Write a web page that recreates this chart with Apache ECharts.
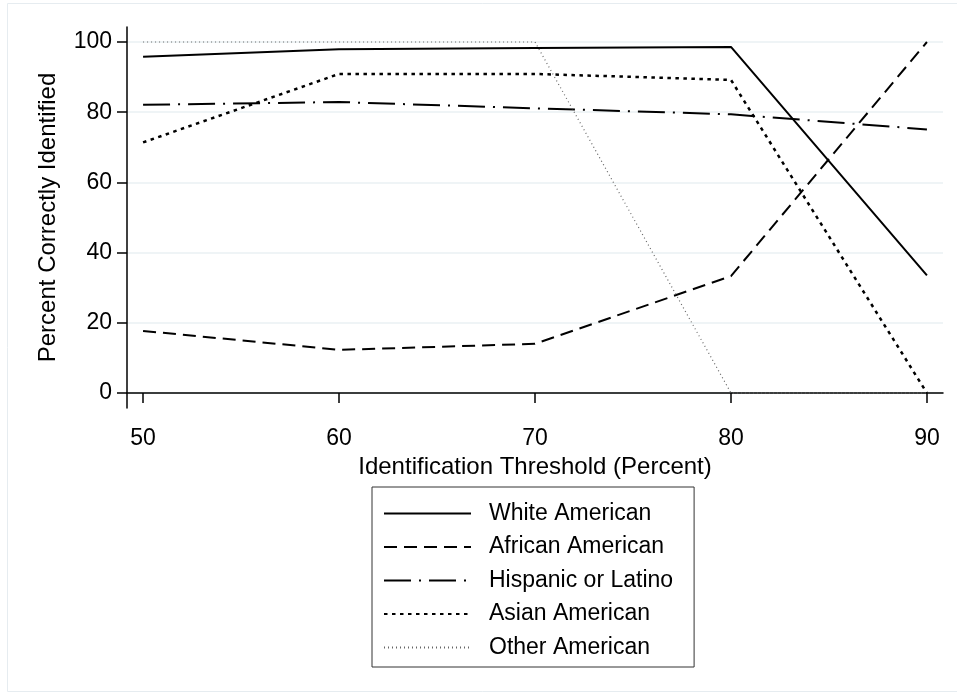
<!DOCTYPE html>
<html><head><meta charset="utf-8">
<script src="https://cdn.jsdelivr.net/npm/echarts@6/dist/echarts.min.js"></script>
<style>html,body{margin:0;padding:0;background:#fff}#c{width:957px;height:698px}</style>
</head><body><div id="c"></div>
<script>
const thresholds = [50, 60, 70, 80, 90];
const whiteAmerican = [95.8, 97.9, 98.3, 98.6, 33.5];
const africanAmerican = [17.7, 12.3, 14.0, 33.3, 100];
const hispanicLatino = [82.1, 82.9, 81.1, 79.4, 75.1];
const asianAmerican = [71.4, 90.9, 90.9, 89.2, 0];
const otherAmerican = [100, 100, 100, 0, 0];
const yTicks = [0, 20, 40, 60, 80, 100];
const xTicks = [50, 60, 70, 80, 90];
const seriesNames = ['White American', 'African American', 'Hispanic or Latino', 'Asian American', 'Other American'];

const FONT = '"Liberation Sans", Arial, sans-serif';
const pair = arr => thresholds.map((t, i) => [t, arr[i]]);
const styles = [
  {color: '#000', width: 2, type: 'solid'},
  {color: '#000', width: 2, type: [13, 7]},
  {color: '#000', width: 2, type: [27, 8, 2, 8]},
  {color: '#000', width: 2.5, type: [3.5, 4.5]},
  {color: '#666', width: 1.2, type: [1, 3]}
];
const datas = [whiteAmerican, africanAmerican, hispanicLatino, asianAmerican, otherAmerican];

const chart = echarts.init(document.getElementById('c'), null, {renderer: 'canvas'});
chart.setOption({
  backgroundColor: '#fff',
  animation: false,
  graphic: [{type: 'rect', shape: {x: 7.5, y: 3.5, width: 960, height: 688}, style: {fill: 'none', stroke: '#e6ecf0', lineWidth: 1}, silent: true}],
  grid: {left: 127, right: 14, top: 27, bottom: 290},
  xAxis: {
    type: 'value', min: 49.18, max: 90.82,
    name: 'Identification Threshold (Percent)', nameLocation: 'middle', nameGap: 37,
    nameTextStyle: {fontFamily: FONT, fontSize: 24, color: '#000'},
    axisLine: {show: true, lineStyle: {color: '#000', width: 1.5}},
    axisTick: {show: true, customValues: xTicks, length: 10, lineStyle: {color: '#000', width: 1.5}},
    axisLabel: {customValues: xTicks, fontFamily: FONT, fontSize: 23, color: '#000', margin: 19},
    splitLine: {show: false}
  },
  yAxis: {
    type: 'value', min: -4.27, max: 104.27,
    name: 'Percent Correctly Identified', nameLocation: 'middle', nameGap: 67,
    nameTextStyle: {fontFamily: FONT, fontSize: 24, color: '#000'},
    axisLine: {show: true, lineStyle: {color: '#000', width: 1.5}},
    axisTick: {show: true, customValues: yTicks, length: 10, lineStyle: {color: '#000', width: 1.5}},
    axisLabel: {customValues: yTicks, fontFamily: FONT, fontSize: 23, color: '#000', margin: 15},
    splitLine: {show: true, lineStyle: {color: '#eaf0f3', width: 1.5}}
  },
  legend: {
    orient: 'vertical', left: 372, top: 487,
    data: seriesNames,
    itemWidth: 87, itemHeight: 20, itemGap: 10.5,
    padding: [15, 21, 8, 11],
    borderColor: '#333', borderWidth: 1,
    itemStyle: {opacity: 0},
    textStyle: {fontFamily: FONT, fontSize: 23, color: '#000', lineHeight: 20, padding: [0, 0, 0, 13]}
  },
  series: seriesNames.map((n, i) => ({
    name: n, type: 'line', data: pair(datas[i]),
    showSymbol: false, symbol: 'none',
    lineStyle: styles[i], itemStyle: {color: styles[i].color}
  }))
});
</script></body></html>
